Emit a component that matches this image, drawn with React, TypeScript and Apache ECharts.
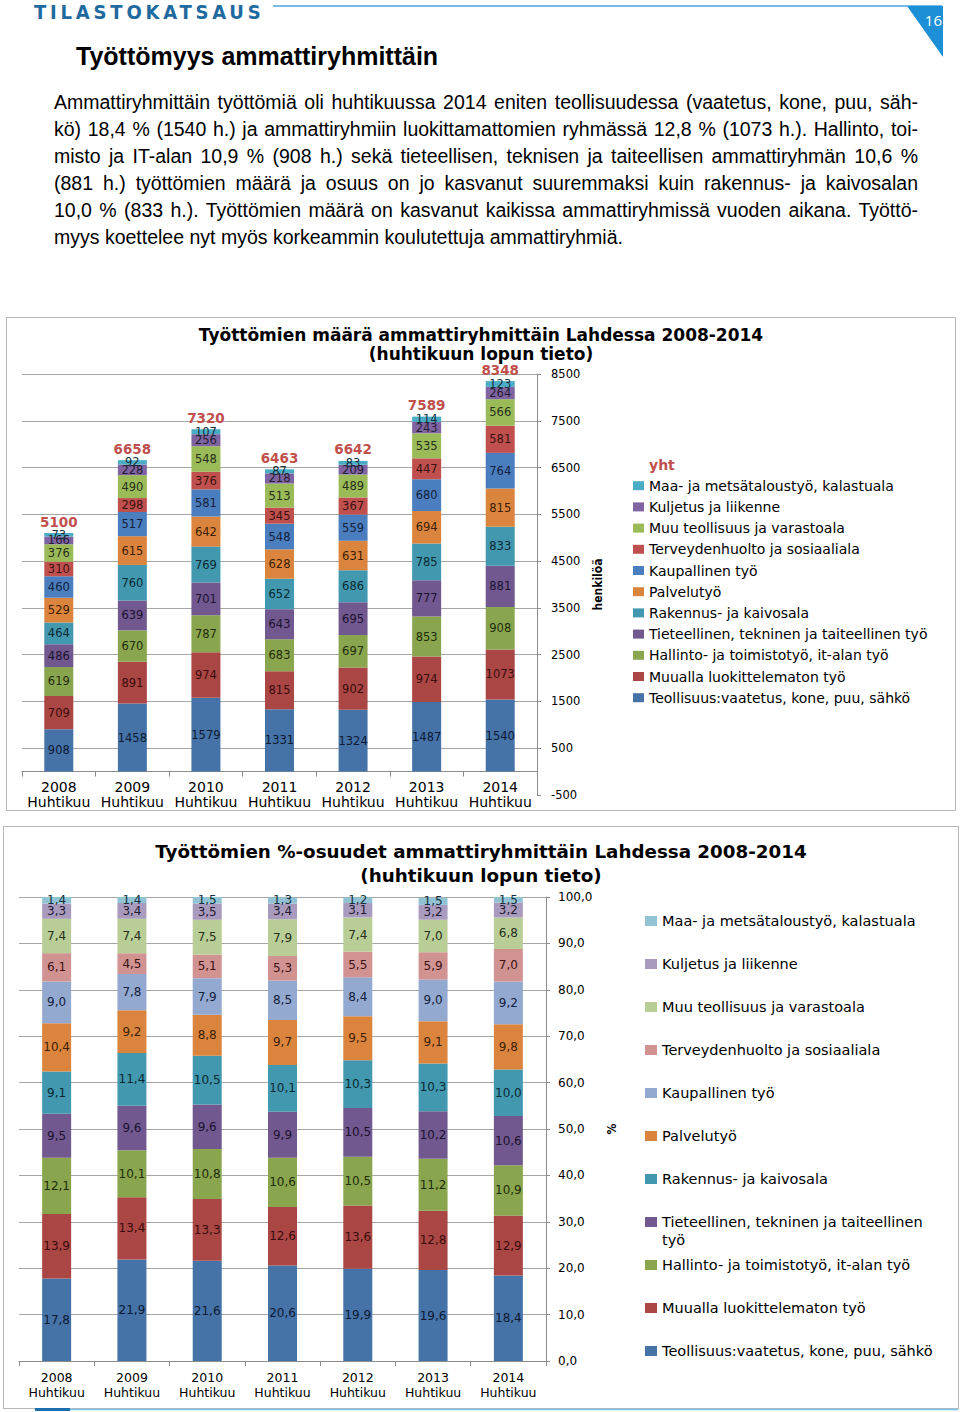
import React, { useEffect, useRef } from 'react';
import * as echarts from 'echarts';

// ---------- data ----------
const categories = ['2008 Huhtikuu', '2009 Huhtikuu', '2010 Huhtikuu', '2011 Huhtikuu', '2012 Huhtikuu', '2013 Huhtikuu', '2014 Huhtikuu'];

// series names, bottom of the stack first
const seriesNames = [
  'Teollisuus:vaatetus, kone, puu, sähkö',
  'Muualla luokittelematon työ',
  'Hallinto- ja toimistotyö, it-alan työ',
  'Tieteellinen, tekninen ja taiteellinen työ',
  'Rakennus- ja kaivosala',
  'Palvelutyö',
  'Kaupallinen työ',
  'Terveydenhuolto ja sosiaaliala',
  'Muu teollisuus ja varastoala',
  'Kuljetus ja liikenne',
  'Maa- ja metsätaloustyö, kalastuala',
];

// counts (henkilöä)
const teollisuusCount = [908, 1458, 1579, 1331, 1324, 1487, 1540];
const muuallaCount = [709, 891, 974, 815, 902, 974, 1073];
const hallintoCount = [619, 670, 787, 683, 697, 853, 908];
const tieteellinenCount = [486, 639, 701, 643, 695, 777, 881];
const rakennusCount = [464, 760, 769, 652, 686, 785, 833];
const palveluCount = [529, 615, 642, 628, 631, 694, 815];
const kaupallinenCount = [460, 517, 581, 548, 559, 680, 764];
const terveysCount = [310, 298, 376, 345, 367, 447, 581];
const muuTeollCount = [376, 490, 548, 513, 489, 535, 566];
const kuljetusCount = [166, 228, 256, 218, 209, 243, 264];
const maaCount = [73, 92, 107, 87, 83, 114, 123];
const totals = [5100, 6658, 7320, 6463, 6642, 7589, 8348];

// shares (%)
const teollisuusPct = [17.8, 21.9, 21.6, 20.6, 19.9, 19.6, 18.4];
const muuallaPct = [13.9, 13.4, 13.3, 12.6, 13.6, 12.8, 12.9];
const hallintoPct = [12.1, 10.1, 10.8, 10.6, 10.5, 11.2, 10.9];
const tieteellinenPct = [9.5, 9.6, 9.6, 9.9, 10.5, 10.2, 10.6];
const rakennusPct = [9.1, 11.4, 10.5, 10.1, 10.3, 10.3, 10.0];
const palveluPct = [10.4, 9.2, 8.8, 9.7, 9.5, 9.1, 9.8];
const kaupallinenPct = [9.0, 7.8, 7.9, 8.5, 8.4, 9.0, 9.2];
const terveysPct = [6.1, 4.5, 5.1, 5.3, 5.5, 5.9, 7.0];
const muuTeollPct = [7.4, 7.4, 7.5, 7.9, 7.4, 7.0, 6.8];
const kuljetusPct = [3.3, 3.4, 3.5, 3.4, 3.1, 3.2, 3.2];
const maaPct = [1.4, 1.4, 1.5, 1.3, 1.2, 1.5, 1.5];

const countData = [teollisuusCount, muuallaCount, hallintoCount, tieteellinenCount, rakennusCount, palveluCount, kaupallinenCount, terveysCount, muuTeollCount, kuljetusCount, maaCount];
const pctData = [teollisuusPct, muuallaPct, hallintoPct, tieteellinenPct, rakennusPct, palveluPct, kaupallinenPct, terveysPct, muuTeollPct, kuljetusPct, maaPct];

const paragraphLines = [
  'Ammattiryhmittäin työttömiä oli huhtikuussa 2014 eniten teollisuudessa (vaatetus, kone, puu, säh-',
  'kö) 18,4 % (1540 h.) ja ammattiryhmiin luokittamattomien ryhmässä 12,8 % (1073 h.). Hallinto, toi-',
  'misto ja IT-alan 10,9 % (908 h.) sekä tieteellisen, teknisen ja taiteellisen ammattiryhmän 10,6 %',
  '(881 h.) työttömien määrä ja osuus  on jo kasvanut  suuremmaksi kuin rakennus- ja kaivosalan',
  '10,0 % (833 h.). Työttömien määrä on kasvanut kaikissa ammattiryhmissä vuoden aikana. Työttö-',
  'myys koettelee nyt myös korkeammin koulutettuja ammattiryhmiä.',
];

// ---------- styles ----------
const FONT = '"DejaVu Sans", Verdana, sans-serif';
const NARROW = '"Liberation Sans Narrow", "DejaVu Sans Condensed", Arial, sans-serif';
const countColors = ['#4572A7', '#AA4643', '#89A54E', '#71588F', '#4198AF', '#DB843D', '#4A7EBE', '#C0504D', '#9BBB59', '#8064A2', '#4BACC6'];
const pctColors = ['#4572A7', '#AA4643', '#89A54E', '#71588F', '#4198AF', '#DB843D', '#93A9CF', '#D19392', '#B9CD96', '#A99BBD', '#92C3D4'];
const labelColors = ['#0c1a33', '#3a0d0c', '#1f2d0a', '#1d1230', '#0a2a33', '#3d1f05', '#14223d', '#3d1212', '#26301a', '#241c33', '#13313d'];
const AXIS = '#8C8C8C';
const GRID = '#A6A6A6';

const fmtPct = (v: number) => v.toFixed(1).replace('.', ',');
const legendOrder = [...seriesNames].reverse();

function countOption(): any {
  return {
    animation: false,
    backgroundColor: '#fff',
    textStyle: { fontFamily: FONT },
    title: {
      text: 'Työttömien määrä ammattiryhmittäin Lahdessa 2008-2014\n(huhtikuun lopun tieto)',
      left: 'center',
      top: 2,
      textStyle: { fontFamily: FONT, fontSize: 17, fontWeight: 'bold', color: '#000', lineHeight: 19 },
    },
    legend: {
      orient: 'vertical',
      left: 621,
      top: 134,
      itemGap: 6.2,
      itemWidth: 11,
      itemHeight: 9,
      icon: 'rect',
      selectedMode: false,
      textStyle: { fontFamily: FONT, fontSize: 14, lineHeight: 15, color: '#000' },
      data: [{ name: 'yht', icon: 'none', textStyle: { color: '#C0504D', fontWeight: 'bold' } }, ...legendOrder],
    },
    grid: [
      // plot area of the value axis (-500 … 8500)
      { left: 15, top: 56, width: 515, height: 421, outerBoundsMode: 'none', containLabel: false },
      // same band, ending at the zero line, carries the category axis
      { left: 15, top: 56, width: 515, height: 397.6, outerBoundsMode: 'none', containLabel: false },
    ],
    xAxis: [
      {
        type: 'category',
        gridIndex: 0,
        data: categories,
        axisLine: { show: false },
        axisTick: { show: false },
        axisLabel: { show: false },
      },
      {
        type: 'category',
        gridIndex: 1,
        data: categories,
        axisLine: { onZero: false, lineStyle: { color: AXIS } },
        axisTick: { show: true, length: 5, lineStyle: { color: AXIS } },
        axisLabel: {
          interval: 0,
          margin: 7.5,
          fontSize: 14,
          lineHeight: 15,
          color: '#000',
          fontFamily: FONT,
          formatter: (v: string) => v.replace(' ', '\n'),
        },
      },
    ],
    yAxis: [
      {
        type: 'value',
        gridIndex: 0,
        position: 'right',
        min: -500,
        max: 8500,
        interval: 1000,
        axisLine: { show: true, lineStyle: { color: AXIS } },
        axisTick: { show: true, length: 4, lineStyle: { color: AXIS } },
        axisLabel: { margin: 14, fontSize: 11.5, color: '#000', fontFamily: FONT, formatter: (v: number) => String(v) },
        splitLine: { show: true, showMinLine: false, lineStyle: { color: GRID } },
        name: 'henkilöä',
        nameLocation: 'middle',
        nameGap: 55,
        nameRotate: 90,
        nameTextStyle: { fontFamily: NARROW, fontWeight: 'bold', fontSize: 12, color: '#000' },
      },
      {
        type: 'value',
        gridIndex: 1,
        min: 0,
        max: 1,
        show: false,
      },
    ],
    series: [
      ...seriesNames.map((name, i) => ({
        name,
        type: 'bar',
        xAxisIndex: 0,
        yAxisIndex: 0,
        stack: 'count',
        barWidth: 29,
        data: countData[i],
        itemStyle: { color: countColors[i] },
        label: { show: true, position: 'inside', fontSize: 11.5, color: labelColors[i], fontFamily: FONT },
      })),
      {
        name: 'yht',
        type: 'line',
        xAxisIndex: 0,
        yAxisIndex: 0,
        data: totals,
        symbol: 'circle',
        symbolSize: 1,
        itemStyle: { color: 'rgba(0,0,0,0)' },
        lineStyle: { width: 0, opacity: 0 },
        label: { show: true, position: 'top', distance: 4, color: '#C0504D', fontWeight: 'bold', fontSize: 13.5, fontFamily: FONT },
        z: 5,
      },
    ],
  };
}

function pctOption(): any {
  const legendBase = {
    orient: 'vertical',
    left: 636,
    itemGap: 27,
    itemWidth: 12,
    itemHeight: 10,
    icon: 'rect',
    selectedMode: false,
    textStyle: { fontFamily: FONT, fontSize: 14.5, lineHeight: 16, color: '#000' },
  };
  return {
    animation: false,
    backgroundColor: '#fff',
    textStyle: { fontFamily: FONT },
    title: {
      text: 'Työttömien %-osuudet ammattiryhmittäin Lahdessa 2008-2014\n(huhtikuun lopun tieto)',
      left: 'center',
      top: 7,
      textStyle: { fontFamily: FONT, fontSize: 18.3, fontWeight: 'bold', color: '#000', lineHeight: 24 },
    },
    legend: [
      { ...legendBase, top: 81, data: legendOrder.slice(0, 7) },
      {
        ...legendBase,
        top: 363,
        formatter: (name: string) => '\n' + name,
        textStyle: {
          fontFamily: FONT,
          fontSize: 14.5,
          lineHeight: 18,
          color: '#000',
          width: 282,
          overflow: 'break',
        },
        data: legendOrder.slice(7, 8),
      },
      { ...legendBase, top: 425, data: legendOrder.slice(8) },
    ],
    grid: { left: 15, top: 70, width: 527, height: 464, outerBoundsMode: 'none', containLabel: false },
    xAxis: {
      type: 'category',
      data: categories,
      axisLine: { lineStyle: { color: AXIS } },
      axisTick: { show: true, length: 5, lineStyle: { color: AXIS } },
      axisLabel: {
        interval: 0,
        margin: 8.5,
        fontSize: 12.5,
        lineHeight: 15,
        color: '#000',
        fontFamily: FONT,
        formatter: (v: string) => v.replace(' ', '\n'),
      },
    },
    yAxis: {
      type: 'value',
      position: 'right',
      min: 0,
      max: 100,
      interval: 10,
      axisLine: { show: true, lineStyle: { color: AXIS } },
      axisTick: { show: true, length: 4, lineStyle: { color: AXIS } },
      axisLabel: { margin: 12, fontSize: 12, color: '#000', fontFamily: FONT, formatter: (v: number) => fmtPct(v) },
      splitLine: { show: true, lineStyle: { color: GRID } },
      name: '%',
      nameLocation: 'middle',
      nameGap: 60,
      nameRotate: 90,
      nameTextStyle: { fontFamily: NARROW, fontWeight: 'bold', fontSize: 12, color: '#000' },
    },
    series: seriesNames.map((name, i) => ({
      name,
      type: 'bar',
      stack: 'pct',
      barWidth: 29,
      data: pctData[i],
      itemStyle: { color: pctColors[i] },
      label: {
        show: true,
        position: 'inside',
        fontSize: 12,
        color: labelColors[i],
        fontFamily: FONT,
        formatter: (p: any) => fmtPct(p.value),
      },
    })),
  };
}

export default function App() {
  const ref1 = useRef<HTMLDivElement>(null);
  const ref2 = useRef<HTMLDivElement>(null);

  useEffect(() => {
    const c1 = echarts.init(ref1.current!, undefined, { renderer: 'svg' });
    c1.setOption(countOption());
    const c2 = echarts.init(ref2.current!, undefined, { renderer: 'svg' });
    c2.setOption(pctOption());
    return () => {
      c1.dispose();
      c2.dispose();
    };
  }, []);

  return (
    <div style={{ position: 'absolute', left: 0, top: 0, width: 960, height: 1412, background: '#fff', overflow: 'hidden' }}>
      <svg style={{ position: 'absolute', left: 0, top: 0 }} width={960} height={70}>
        <line x1={273} y1={6} x2={942} y2={6} stroke="#4AA3DA" strokeWidth={1.5} />
        <polygon points="907,6 943,6 943,57" fill="#1C8FD6" />
      </svg>
      <div
        style={{
          position: 'absolute',
          left: 34,
          top: -1,
          fontFamily: NARROW,
          fontWeight: 'bold',
          fontSize: 20,
          lineHeight: '26px',
          letterSpacing: 3.8,
          color: '#1F6A9E',
          whiteSpace: 'nowrap',
        }}
      >
        TILASTOKATSAUS
      </div>
      <div
        style={{
          position: 'absolute',
          left: 922,
          top: 9,
          width: 20,
          textAlign: 'right',
          fontFamily: '"Open Sans", "Liberation Sans", sans-serif',
          fontSize: 15,
          lineHeight: '22px',
          color: '#fff',
        }}
      >
        16
      </div>
      <div
        style={{
          position: 'absolute',
          left: 76,
          top: 41,
          fontFamily: '"Liberation Sans", Arial, sans-serif',
          fontWeight: 'bold',
          fontSize: 25,
          lineHeight: '30px',
          color: '#000',
          whiteSpace: 'nowrap',
        }}
      >
        Työttömyys ammattiryhmittäin
      </div>
      {paragraphLines.map((line, i) => (
        <div
          key={i}
          style={{
            position: 'absolute',
            left: 54,
            top: 89 + 27 * i,
            width: 864,
            height: 27,
            fontFamily: '"Liberation Sans", Arial, sans-serif',
            fontSize: 19.5,
            lineHeight: '27px',
            color: '#000',
            whiteSpace: 'nowrap',
            textAlign: i === paragraphLines.length - 1 ? 'left' : 'justify',
            textAlignLast: i === paragraphLines.length - 1 ? 'left' : 'justify',
          }}
        >
          {line}
        </div>
      ))}
      <div style={{ position: 'absolute', left: 6, top: 317, width: 948, height: 492, border: '1px solid #B8B8B8' }}>
        <div ref={ref1} style={{ width: 948, height: 492 }} />
      </div>
      <div style={{ position: 'absolute', left: 3, top: 826, width: 954, height: 581, border: '1px solid #B8B8B8' }}>
        <div ref={ref2} style={{ width: 954, height: 581 }} />
      </div>
      <svg style={{ position: 'absolute', left: 0, top: 1406 }} width={960} height={6}>
        <line x1={70} y1={3.5} x2={958} y2={3.5} stroke="#7CC6E6" strokeWidth={1.5} />
        <line x1={35} y1={3.5} x2={70} y2={3.5} stroke="#1C6FB0" strokeWidth={3} />
      </svg>
    </div>
  );
}
